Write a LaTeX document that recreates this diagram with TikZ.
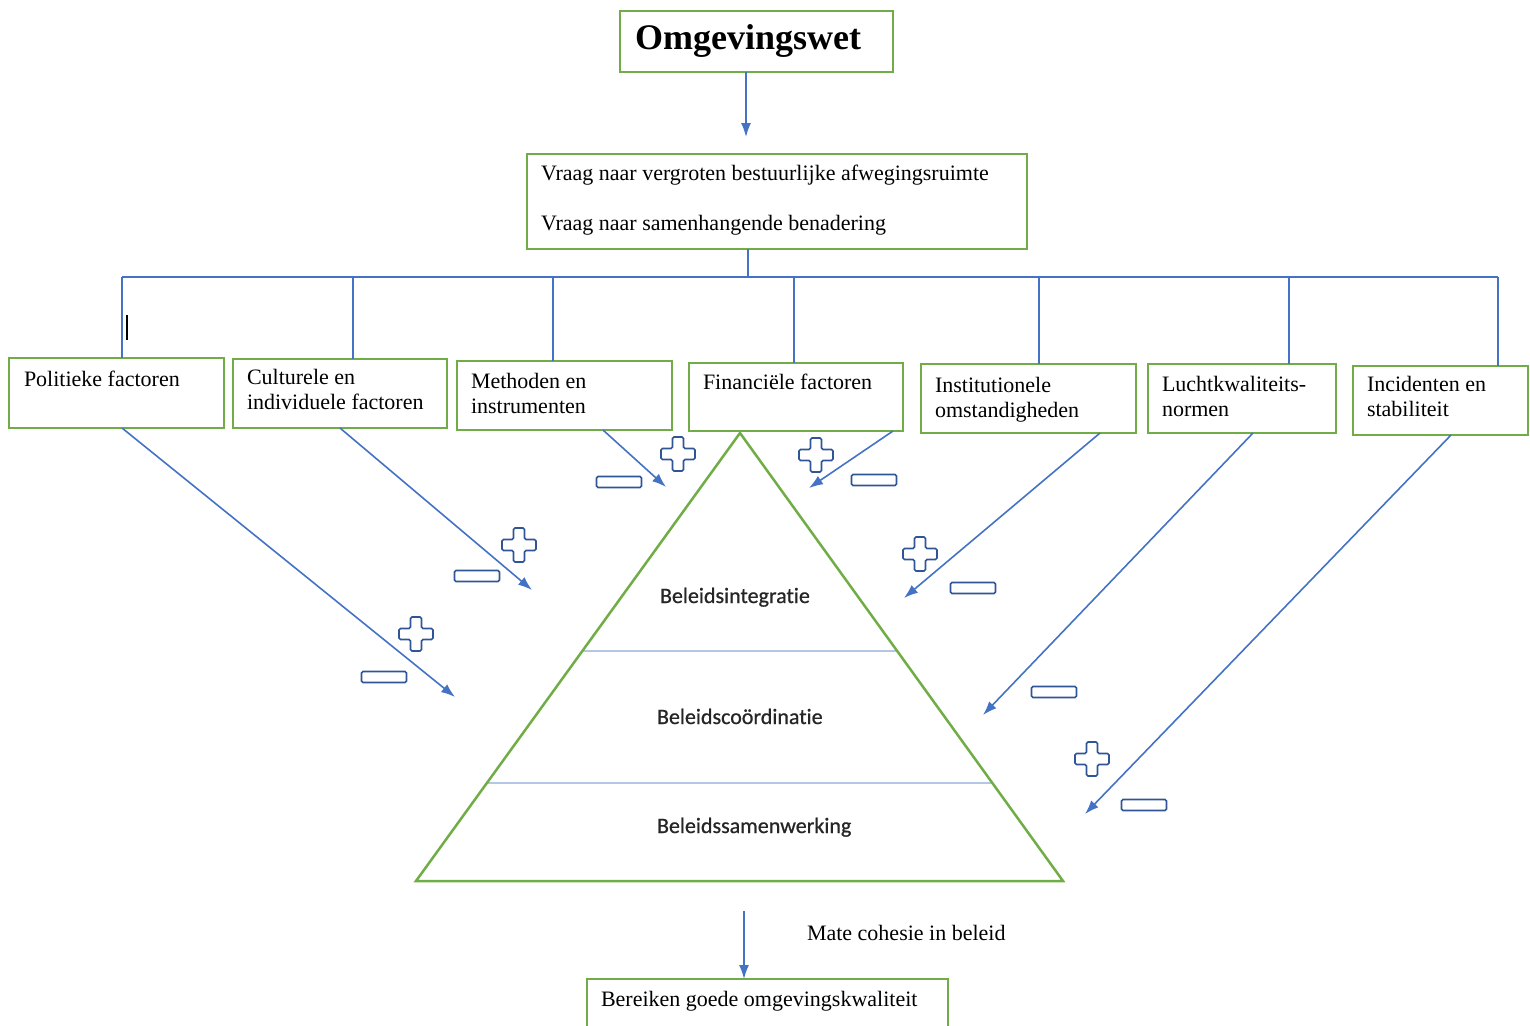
\documentclass[tikz,border=0pt]{standalone}
\usepackage{fontspec}
\setmainfont{Liberation Serif}
\newfontfamily\calibfont[Ligatures=CommonOff,FakeBold=0.8]{Carlito}
\usetikzlibrary{arrows.meta,calc}
\definecolor{boxgreen}{HTML}{70AD47}
\definecolor{lineblue}{HTML}{4472C4}
\definecolor{signblue}{HTML}{2F5597}
\definecolor{layerblue}{HTML}{B4C7E7}
\begin{document}
\begin{tikzpicture}[x=1pt,y=-1pt,
  box/.style={draw=boxgreen, line width=2pt, inner sep=0pt, outer sep=0pt, anchor=north west},
  txt/.style={inner sep=0pt, outer sep=0pt, font=\fontsize{22}{25.5}\selectfont, align=left, anchor=north west},
  linetxt/.style={inner sep=0pt, outer sep=0pt, font=\fontsize{22}{25.5}\selectfont, anchor=base west},
  layertxt/.style={inner sep=0pt, outer sep=0pt, font=\calibfont\fontsize{22}{26}\selectfont, anchor=base west, text=black!85},
  link/.style={draw=lineblue, line width=1.6pt},
  arr/.style={link, -{Latex[length=14pt,width=10pt]}},
  sign/.style={draw=signblue, line width=1.7pt, fill=white, rounded corners=1.5pt},
  plussign/.pic={\path[sign] (-5.5,-17) -- (5.5,-17) -- (5.5,-5.5) -- (17,-5.5) -- (17,5.5) -- (5.5,5.5) -- (5.5,17) -- (-5.5,17) -- (-5.5,5.5) -- (-17,5.5) -- (-17,-5.5) -- (-5.5,-5.5) -- cycle;},
  minussign/.pic={\path[sign] (-22.5,-5.5) rectangle (22.5,5.5);}
]
\useasboundingbox (0,0) rectangle (1530,1025);

% top boxes
\node[box, minimum width=273pt, minimum height=61pt] (omg) at (620,11) {};
\node[inner sep=0pt, anchor=base west, font=\bfseries\fontsize{36}{40}\selectfont] (omgt) at (635,50) {Omgevingswet};
\node[box, minimum width=500pt, minimum height=95pt] (vraag) at (527,154) {};
\node[linetxt] (vraag1) at (541,180) {Vraag naar vergroten bestuurlijke afwegingsruimte};
\node[linetxt] (vraag2) at (541,230) {Vraag naar samenhangende benadering};

% factor boxes
\node[box, minimum width=215pt, minimum height=70pt] (pol) at (9,358) {};
\node[txt] (polt) at (24,371) {Politieke factoren};
\node[box, minimum width=214pt, minimum height=69pt] (cult) at (233,359) {};
\node[txt] (cultt) at (247,369) {Culturele en\\individuele factoren};
\node[box, minimum width=215pt, minimum height=69pt] (meth) at (457,361) {};
\node[txt] (metht) at (471,373) {Methoden en\\instrumenten};
\node[box, minimum width=214pt, minimum height=68pt] (fin) at (689,363) {};
\node[txt] (fint) at (703,374) {Financiële factoren};
\node[box, minimum width=215pt, minimum height=69pt] (inst) at (921,364) {};
\node[txt] (instt) at (935,377) {Institutionele\\omstandigheden};
\node[box, minimum width=188pt, minimum height=69pt] (lucht) at (1148,364) {};
\node[txt] (luchtt) at (1162,376) {Luchtkwaliteits-\\normen};
\node[box, minimum width=175pt, minimum height=69pt] (inc) at (1353,366) {};
\node[txt] (inct) at (1367,376) {Incidenten en\\stabiliteit};

% text cursor mark
\draw[black, line width=1.2pt] (127,315) -- (127,340);

% top arrow
\coordinate (a1) at (746,137);
\draw[arr] (omg.south -| a1) -- (a1);

% bus
\coordinate (b0) at (748,277);
\coordinate (bL) at (122,277);
\coordinate (bR) at (1498,277);
\coordinate (b2) at (353,277);
\coordinate (b3) at (553,277);
\coordinate (b4) at (794,277);
\coordinate (b5) at (1039,277);
\coordinate (b6) at (1289,277);
\draw[link] (vraag.south -| b0) -- (b0);
\draw[link] (bL) -- (bR);
\draw[link] (bL) -- (bL |- pol.north);
\draw[link] (b2) -- (b2 |- cult.north);
\draw[link] (b3) -- (b3 |- meth.north);
\draw[link] (b4) -- (b4 |- fin.north);
\draw[link] (b5) -- (b5 |- inst.north);
\draw[link] (b6) -- (b6 |- lucht.north);
\draw[link] (bR) -- (bR |- inc.north);

% pyramid
\coordinate (apex) at (740,433);
\coordinate (bl) at (416,881);
\coordinate (br) at (1063,881);
\draw[layerblue, line width=2pt] ($(apex)!0.4866!(bl)$) -- ($(apex)!0.4866!(br)$);
\draw[layerblue, line width=2pt] ($(apex)!0.78125!(bl)$) -- ($(apex)!0.78125!(br)$);
\draw[boxgreen, line width=2.5pt, line join=miter] (apex) -- (bl) -- (br) -- cycle;
\node[layertxt] (integ) at (660,603) {Beleidsintegratie};
\node[layertxt] (coord) at (657,724) {Beleidscoördinatie};
\node[layertxt] (samen) at (657,833) {Beleidssamenwerking};

% influence arrows
\coordinate (e1) at (455,697);
\coordinate (e2) at (532,590);
\coordinate (e3) at (666,487);
\coordinate (e4) at (809,488);
\coordinate (e5) at (904,598);
\coordinate (e6) at (983,715);
\coordinate (e7) at (1085,814);
\draw[arr] ([xshift=113pt]pol.south west) -- (e1);
\draw[arr] ([xshift=107pt]cult.south west) -- (e2);
\draw[arr] ([xshift=146pt]meth.south west) -- (e3);
\draw[arr] ([xshift=204pt]fin.south west) -- (e4);
\draw[arr] ([xshift=179pt]inst.south west) -- (e5);
\draw[arr] ([xshift=105pt]lucht.south west) -- (e6);
\draw[arr] ([xshift=98pt]inc.south west) -- (e7);

% plus and minus signs
\pic at (416,634) {plussign};
\pic at (384,677) {minussign};
\pic at (519,545) {plussign};
\pic at (477,576) {minussign};
\pic at (678,454) {plussign};
\pic at (619,482) {minussign};
\pic at (816,455) {plussign};
\pic at (874,480) {minussign};
\pic at (920,554) {plussign};
\pic at (973,588) {minussign};
\pic at (1054,692) {minussign};
\pic at (1092,759) {plussign};
\pic at (1144,805) {minussign};

% bottom
\node[box, minimum width=361pt, minimum height=80pt] (ber) at (587,979) {};
\node[linetxt] (bert) at (601,1006) {Bereiken goede omgevingskwaliteit};
\coordinate (cstart) at (744,911);
\draw[arr] (cstart) -- (cstart |- ber.north);
\node[linetxt] (mate) at (807,940) {Mate cohesie in beleid};
\end{tikzpicture}
\end{document}
